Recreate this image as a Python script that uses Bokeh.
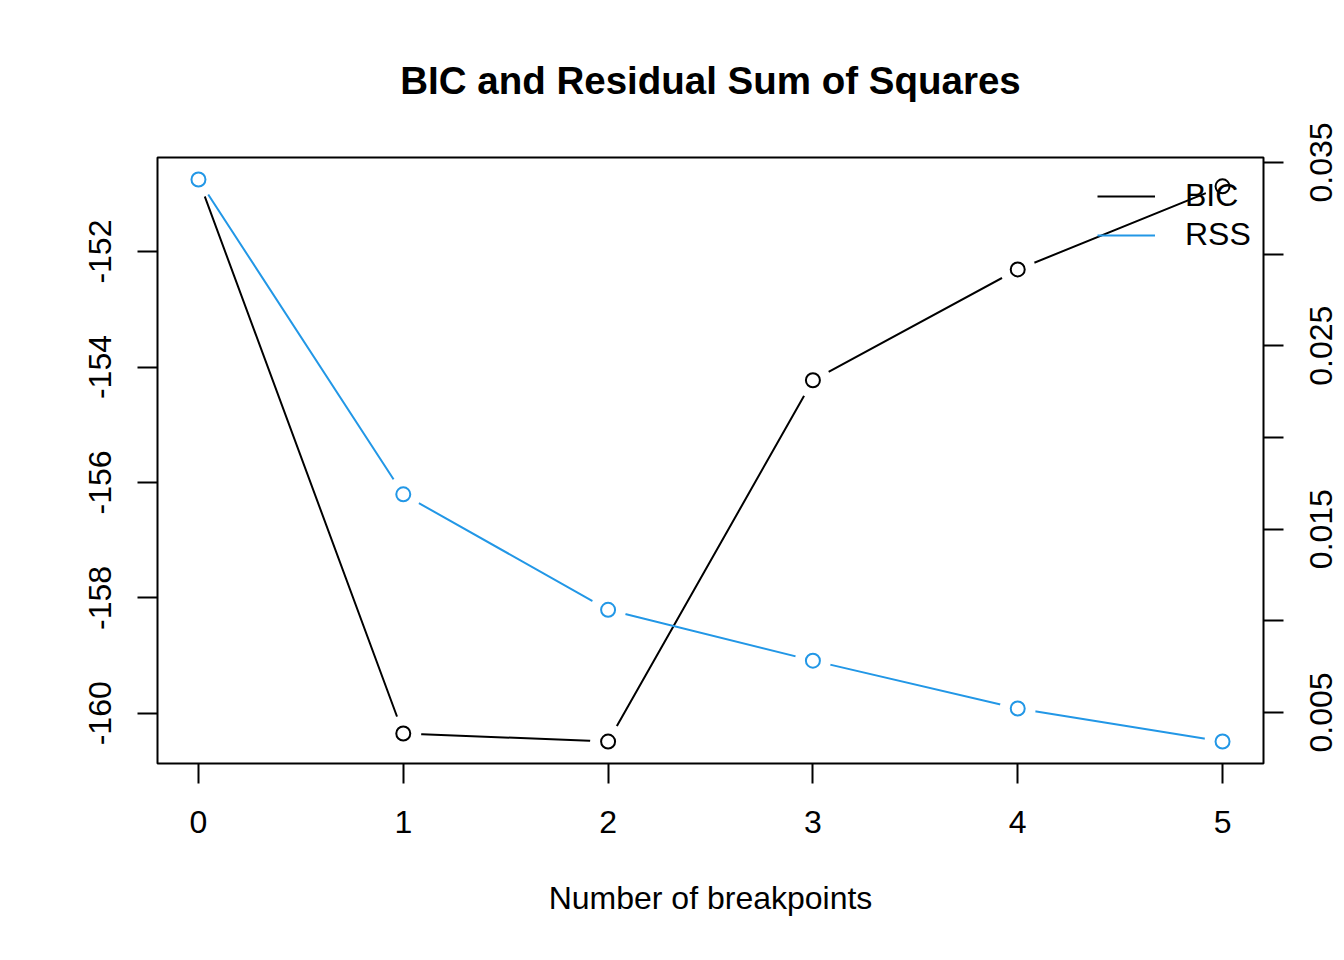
import math
from bokeh.plotting import figure
from bokeh.models import Range1d, LinearAxis, FixedTicker, Legend, LegendItem, Title
from bokeh.embed import file_html
from bokeh.resources import INLINE

breakpoints = [0, 1, 2, 3, 4, 5]
bic = [-150.75, -160.35, -160.49, -154.23, -152.31, -150.87]
rss = [0.03407, 0.0169, 0.0106, 0.00783, 0.00522, 0.00342]
left_ticks = [-160, -158, -156, -154, -152]
right_ticks = [0.005, 0.010, 0.015, 0.020, 0.025, 0.030, 0.035]
right_label_ticks = [0.005, 0.015, 0.025, 0.035]
right_labels = ["0.005", "0.015", "0.025", "0.035"]
x_ticks = [0, 1, 2, 3, 4, 5]

BLUE = "#2297E6"
FONT = "Liberation Sans"
FRAME_W, FRAME_H = 1106, 606
RSS_LO, RSS_HI = 0.00222, 0.03527

p = figure(frame_width=FRAME_W, frame_height=FRAME_H,
           min_border_left=157, min_border_right=81,
           min_border_top=157, min_border_bottom=197,
           x_range=Range1d(-0.2, 5.2), y_range=Range1d(-160.87, -150.37),
           output_backend="svg", toolbar_location=None, tools="")

# the rotated right labels start at their anchor; shift the label axis's range by
# half a label length (about 40 px) so each label is centred on its tick
half_label = 40 * (RSS_HI - RSS_LO) / FRAME_H
p.extra_y_ranges = {"rss": Range1d(RSS_LO, RSS_HI),
                    "rss_lbl": Range1d(RSS_LO + half_label, RSS_HI + half_label)}

p.xgrid.visible = False
p.ygrid.visible = False
p.outline_line_color = "black"
p.outline_line_width = 2
p.background_fill_color = "white"
p.border_fill_color = "white"

def style_axis(ax, standoff):
    ax.axis_line_color = None
    ax.major_tick_out = 20
    ax.major_tick_in = 0
    ax.minor_tick_line_color = None
    ax.major_tick_line_width = 2
    ax.major_tick_line_color = "black"
    ax.major_label_text_font = FONT
    ax.major_label_text_font_size = "32px"
    ax.major_label_text_color = "black"
    ax.major_label_standoff = standoff

# x axis
xa = p.xaxis[0]
xa.ticker = FixedTicker(ticks=x_ticks)
style_axis(xa, 27)
xa.axis_label = "Number of breakpoints"
xa.axis_label_text_font = FONT
xa.axis_label_text_font_size = "32px"
xa.axis_label_text_font_style = "normal"
xa.axis_label_text_color = "black"
xa.axis_label_standoff = 44

# left axis
ya = p.yaxis[0]
ya.ticker = FixedTicker(ticks=left_ticks)
ya.major_label_overrides = {t: str(t) for t in left_ticks}
ya.major_label_orientation = "parallel"
style_axis(ya, 26)

# right axis: ticks only (its labels are not drawn)
ra = LinearAxis(y_range_name="rss")
ra.ticker = FixedTicker(ticks=right_ticks)
style_axis(ra, 0)
ra.major_label_text_font_size = "1px"
ra.major_label_text_color = None
p.add_layout(ra, "right")

# right axis labels, reading bottom-to-top
rl = LinearAxis(y_range_name="rss_lbl")
rl.ticker = FixedTicker(ticks=right_label_ticks)
style_axis(rl, 38)
rl.major_tick_out = 0
rl.major_tick_line_color = None
rl.major_label_overrides = {t: s for t, s in zip(right_label_ticks, right_labels)}
rl.major_label_orientation = math.pi / 2
p.add_layout(rl, "right")

# title
p.title = Title(text="BIC and Residual Sum of Squares", align="center",
                text_font=FONT, text_font_size="38.5px", text_font_style="bold",
                text_color="black", standoff=111)

# BIC series
bic_line = p.line(breakpoints, bic, line_color="black", line_width=2)
p.scatter(breakpoints, bic, size=36, fill_color="white", line_color=None)
p.scatter(breakpoints, bic, size=14, fill_color="white", line_color="black", line_width=2)

# RSS series
rss_line = p.line(breakpoints, rss, line_color=BLUE, line_width=2, y_range_name="rss")
p.scatter(breakpoints, rss, size=36, fill_color="white", line_color=None, y_range_name="rss")
p.scatter(breakpoints, rss, size=14, fill_color="white", line_color=BLUE, line_width=2, y_range_name="rss")

legend = Legend(items=[LegendItem(label="BIC", renderers=[bic_line]),
                       LegendItem(label="RSS", renderers=[rss_line])],
                location=(940, 510), orientation="vertical",
                background_fill_alpha=0, border_line_alpha=0,
                padding=0, margin=0, spacing=2,
                glyph_width=58, glyph_height=32, label_height=32,
                label_standoff=30, label_text_font=FONT,
                label_text_font_size="32px", label_text_color="black")
p.add_layout(legend, "center")

open("out.html", "w").write(file_html(p, INLINE))
